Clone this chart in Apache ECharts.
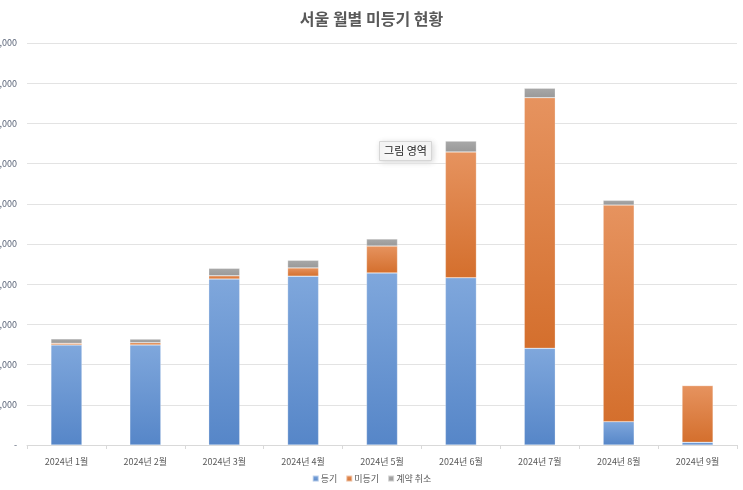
<!DOCTYPE html>
<html>
<head>
<meta charset="utf-8">
<script src="https://cdn.jsdelivr.net/npm/echarts@6/dist/echarts.min.js"></script>
<style>
html,body{margin:0;padding:0;background:#fff;}
#chart{width:743px;height:490px;}
</style>
</head>
<body>
<div id="chart"></div>
<script>
var categories = ['2024년 1월','2024년 2월','2024년 3월','2024년 4월','2024년 5월','2024년 6월','2024년 7월','2024년 8월','2024년 9월'];
var registered = [2490, 2490, 4130, 4200, 4280, 4160, 2405, 580, 67];
var unregistered = [40, 55, 80, 205, 670, 3130, 6235, 5390, 1410];
var cancelled = [110, 90, 185, 190, 175, 270, 235, 117, 10];
var seriesNames = ['등기', '미등기', '계약 취소'];
var titleText = '서울 월별 미등기 현황';
var hoverLabel = '그림 영역';

var font = '"Noto Sans CJK KR", "Noto Sans", sans-serif';
function grad(top, bottom) {
  return new echarts.graphic.LinearGradient(0, 0, 0, 1, [
    {offset: 0, color: top}, {offset: 1, color: bottom}
  ]);
}
var chart = echarts.init(document.getElementById('chart'), null, {renderer: 'canvas'});
var barCommon = {type: 'bar', stack: 'total', barWidth: 31};
chart.setOption({
  animation: false,
  backgroundColor: '#ffffff',
  title: {
    text: titleText, left: 'center', top: 6,
    textStyle: {fontFamily: font, fontSize: 16, fontWeight: 'bold', color: '#595959'}
  },
  legend: {
    bottom: 2, left: 'center', itemWidth: 6, itemHeight: 6, itemGap: 8,
    icon: 'rect',
    textStyle: {fontFamily: font, fontSize: 9, color: '#595959', padding: [0, 0, 0, -3]},
    data: seriesNames
  },
  grid: {left: 27, right: 6, top: 43, bottom: 45, containLabel: false, outerBoundsMode: 'none'},
  xAxis: {
    type: 'category', data: categories,
    axisLine: {lineStyle: {color: '#d9d9d9'}},
    axisTick: {show: true, length: 4, lineStyle: {color: '#d9d9d9'}},
    axisLabel: {fontFamily: font, fontSize: 9, color: '#595959', margin: 12}
  },
  yAxis: {
    type: 'value', min: 0, max: 10000, interval: 1000,
    axisLine: {show: false}, axisTick: {show: false},
    splitLine: {lineStyle: {color: '#e3e3e3', width: 1}},
    axisLabel: {
      fontFamily: font, fontSize: 9, color: '#5a6478', margin: 10,
      formatter: function (v) { return v === 0 ? '-' : v.toLocaleString('en-US'); }
    }
  },
  color: ['#5b8fd0', '#e07f3c', '#a0a0a0'],
  series: [
    Object.assign({}, barCommon, {
      name: seriesNames[0], data: registered,
      itemStyle: {color: grad('#7fa7dc', '#5686c8'), borderColor: 'rgba(255,255,255,0.5)', borderWidth: 0.5}
    }),
    Object.assign({}, barCommon, {
      name: seriesNames[1], data: unregistered,
      itemStyle: {color: grad('#e6935f', '#d46f2d'), borderColor: 'rgba(255,255,255,0.5)', borderWidth: 0.5}
    }),
    Object.assign({}, barCommon, {
      name: seriesNames[2], data: cancelled,
      itemStyle: {color: grad('#a8a8a8', '#999999'), borderColor: 'rgba(255,255,255,0.5)', borderWidth: 0.5}
    })
  ],
  graphic: [{
    type: 'group', left: 379, top: 141,
    children: [{
      type: 'rect', shape: {x: 0, y: 0, width: 52, height: 19},
      style: {fill: '#f8f8f8', stroke: '#d6d6d6', lineWidth: 1,
        shadowBlur: 6, shadowColor: 'rgba(0,0,0,0.15)', shadowOffsetX: 1, shadowOffsetY: 1}
    }, {
      type: 'text', x: 26, y: 9.5,
      style: {text: hoverLabel, fontFamily: font, fontSize: 11, fill: '#222',
        align: 'center', verticalAlign: 'middle'}
    }]
  }]
});
</script>
</body>
</html>
